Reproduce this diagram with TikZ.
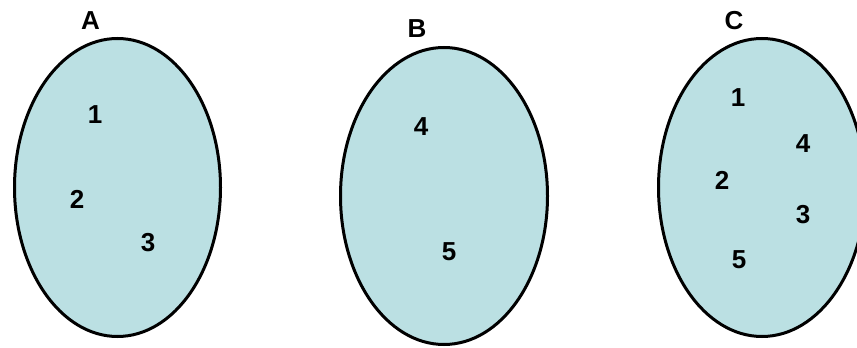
\documentclass[tikz,border=0pt]{standalone}
\usepackage{fontspec}
\setmainfont{Liberation Sans}
\usepackage{xcolor}
\usetikzlibrary{shapes.geometric,positioning}
\definecolor{vnFill}{RGB}{187,224,227}
\definecolor{vnInk} {RGB}{  0,  0,  0}

\begin{document}
\begin{tikzpicture}[
  x=1pt,y=1pt,
  font=\fontsize{26}{30}\selectfont\bfseries,
  set/.style={ellipse,draw=vnInk,line width=3pt,fill=vnFill,
              minimum width=206pt,minimum height=298pt,
              inner sep=0pt,outer sep=0pt},
  tag/.style={text=vnInk,inner sep=0pt},
  elem/.style={text=vnInk,inner sep=0pt}
]
\useasboundingbox (0,0) rectangle (857,348);
\clip (0,0) rectangle (857,348);

% --- Set A
\node[set] (sA) at (117.5,160.5) {};
\node[tag] (tA) at (90.5,327.5) {A};
\node[elem] (a1) at ([xshift=-22.5pt,yshift=72.5pt] sA.center) {1};
\node[elem] (a2) at ([xshift=-40.5pt,yshift=-11.5pt] sA.center) {2};
\node[elem] (a3) at ([xshift=30.5pt,yshift=-55.5pt] sA.center) {3};

% --- Set B
\node[set,minimum width=207pt,minimum height=297pt] (sB) at (444,152) {};
\node[tag] (tB) at (417,319) {B};
\node[elem] (b4) at ([xshift=-23pt,yshift=69pt] sB.center) {4};
\node[elem] (b5) at ([xshift=5pt,yshift=-56pt] sB.center) {5};

% --- Set C
\node[set,minimum width=207pt] (sC) at (762,160.5) {};
\node[tag] (tC) at (734,327) {C};
\node[elem] (c1) at ([xshift=-24pt,yshift=89.5pt] sC.center) {1};
\node[elem] (c4) at ([xshift=41pt,yshift=43.5pt] sC.center) {4};
\node[elem] (c2) at ([xshift=-40pt,yshift=7.5pt] sC.center) {2};
\node[elem] (c3) at ([xshift=41pt,yshift=-27.5pt] sC.center) {3};
\node[elem] (c5) at ([xshift=-23pt,yshift=-72.5pt] sC.center) {5};
\end{tikzpicture}
\end{document}
